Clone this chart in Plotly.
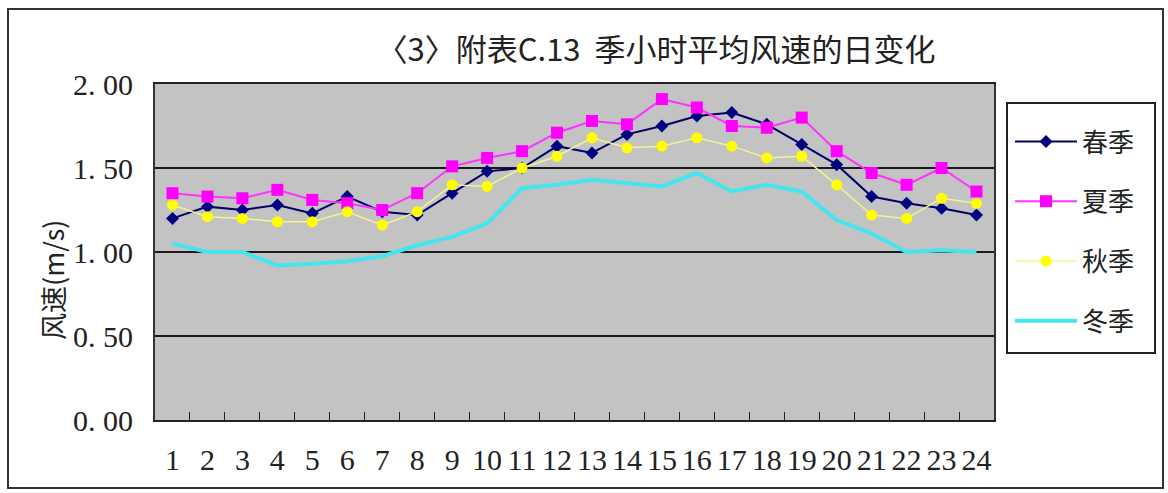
import plotly.graph_objects as go

# Hour of day (1-24) and seasonal mean hourly wind speed (m/s)
hours = [str(h) for h in range(1, 25)]
spring = [1.20, 1.27, 1.25, 1.28, 1.23, 1.33, 1.24, 1.22, 1.35, 1.48, 1.50, 1.63,
          1.59, 1.70, 1.75, 1.81, 1.83, 1.76, 1.64, 1.52, 1.33, 1.29, 1.26, 1.22]
summer = [1.35, 1.33, 1.32, 1.37, 1.31, 1.29, 1.25, 1.35, 1.51, 1.56, 1.60, 1.71,
          1.78, 1.76, 1.91, 1.86, 1.75, 1.74, 1.80, 1.60, 1.47, 1.40, 1.50, 1.36]
autumn = [1.28, 1.21, 1.20, 1.18, 1.18, 1.24, 1.16, 1.24, 1.40, 1.39, 1.50, 1.57,
          1.68, 1.62, 1.63, 1.68, 1.63, 1.56, 1.57, 1.40, 1.22, 1.20, 1.32, 1.29]
winter = [1.05, 1.00, 1.00, 0.92, 0.93, 0.945, 0.975, 1.04, 1.09, 1.17, 1.38, 1.40,
          1.43, 1.41, 1.39, 1.47, 1.36, 1.40, 1.36, 1.19, 1.11, 1.00, 1.01, 1.00]

y_ticks = [0.0, 0.5, 1.0, 1.5, 2.0]
y_ticktext = ["0. 00", "0. 50", "1. 00", "1. 50", "2. 00"]

NUM_FONT = "Liberation Serif, Noto Sans CJK SC"
CJK_FONT = "Noto Sans CJK SC, Liberation Serif"

fig = go.Figure()
fig.add_trace(go.Scatter(
    x=hours, y=spring, name="春季", mode="lines+markers", legendgroup="a",
    line=dict(color="#000066", width=2),
    marker=dict(symbol="diamond", size=10, color="#000080")))
fig.add_trace(go.Scatter(
    x=hours, y=summer, name="夏季", mode="lines+markers", legendgroup="b",
    line=dict(color="#ff33ff", width=2),
    marker=dict(symbol="square", size=12, color="#ff00ff")))
fig.add_trace(go.Scatter(
    x=hours, y=autumn, name="秋季", mode="lines+markers", legendgroup="c",
    line=dict(color="#f4f490", width=1.5),
    marker=dict(symbol="circle", size=11, color="#ffff00")))
fig.add_trace(go.Scatter(
    x=hours, y=winter, name="冬季", mode="lines", legendgroup="d",
    line=dict(color="#44e6ee", width=4)))

W, H = 1168, 493
L, R, T, B = 155, 994, 84, 420
pw, ph = R - L, B - T

def px(x):
    return (x - L) / pw

def py(y):
    return (B - y) / ph

fig.update_layout(
    width=W, height=H,
    margin=dict(l=L, r=W - R, t=T, b=H - B, autoexpand=False),
    paper_bgcolor="white",
    plot_bgcolor="#c3c3c3",
    showlegend=True,
    legend=dict(
        x=px(1010), y=py(118), xanchor="left", yanchor="top",
        bgcolor="rgba(0,0,0,0)", borderwidth=0,
        font=dict(family=CJK_FONT, size=26, color="#222222"),
        tracegroupgap=23, itemwidth=62,
    ),
    title=dict(
        text="〈3〉附表C.13  季小时平均风速的日变化",
        xref="container", x=656 / W, xanchor="center",
        yref="container", y=1 - 50 / H, yanchor="middle",
        font=dict(family=CJK_FONT, size=31, color="#222222"),
    ),
    xaxis=dict(
        type="category", categoryorder="array", categoryarray=hours,
        tickmode="array", tickvals=hours, ticktext=hours, tickangle=0,
        ticks="inside", tickson="boundaries", ticklen=8, tickcolor="#222222",
        showline=True, linecolor="#222222", linewidth=2, mirror=True,
        showgrid=False, ticklabelstandoff=12, automargin=False,
        tickfont=dict(family=NUM_FONT, size=30, color="#222222"),
        range=[-0.5, 23.5],
    ),
    yaxis=dict(
        range=[0, 2], tickmode="array", tickvals=y_ticks, ticktext=y_ticktext,
        showgrid=True, gridcolor="#1a1a1a", gridwidth=2,
        showline=True, linecolor="#333333", linewidth=2, mirror=True,
        zeroline=False, ticks="", ticklabelstandoff=14, automargin=False,
        tickfont=dict(family=NUM_FONT, size=30, color="#222222"),
    ),
    annotations=[dict(
        text="风速(m/s)", xref="paper", yref="paper",
        x=px(52), y=py(280), xanchor="center", yanchor="middle",
        textangle=-90, showarrow=False,
        font=dict(family=CJK_FONT, size=27, color="#222222"),
    )],
    shapes=[
        dict(type="rect", xref="paper", yref="paper",
             x0=px(8), x1=px(1163), y0=py(488), y1=py(9),
             line=dict(color="#333333", width=2), layer="below"),
        dict(type="rect", xref="paper", yref="paper",
             x0=px(1007), x1=px(1155), y0=py(353), y1=py(103),
             line=dict(color="#222222", width=2), fillcolor="white",
             layer="above"),
    ],
)

fig.write_html("out.html")
